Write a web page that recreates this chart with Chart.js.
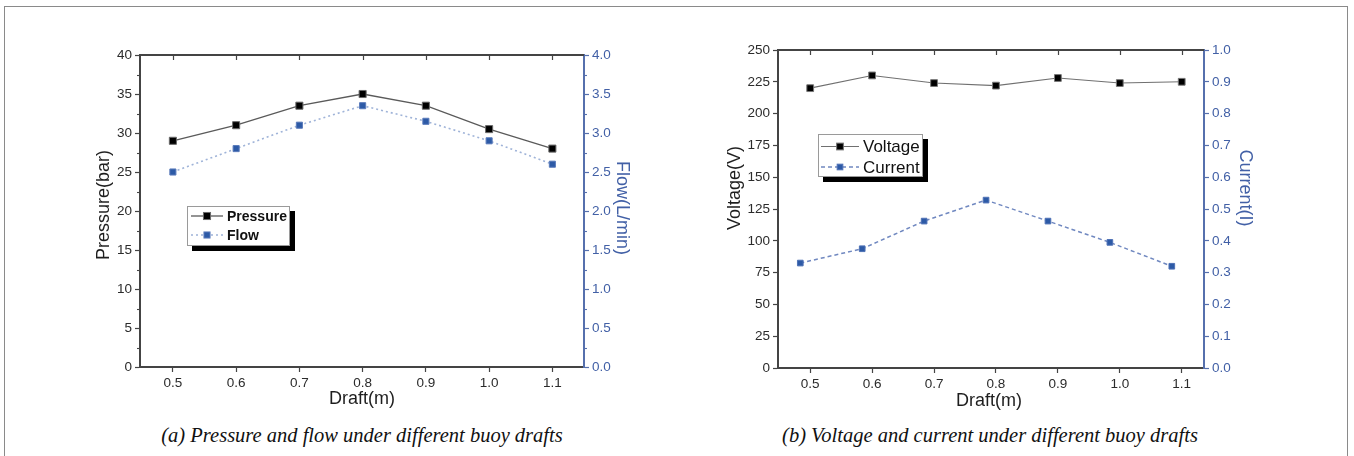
<!DOCTYPE html>
<html>
<head>
<meta charset="utf-8">
<script src="https://cdn.jsdelivr.net/npm/chart.js@4.4.1/dist/chart.umd.min.js"></script>
<style>
  html, body { margin: 0; padding: 0; background: #fff; }
  body { width: 1354px; height: 456px; position: relative; overflow: hidden; }
  .frame { position: absolute; left: 4px; top: 6px; width: 1344px; height: 520px; border: 1px solid #8a8a8a; box-sizing: border-box; }
  .panel { position: absolute; top: 0; width: 677px; height: 420px; }
  .caption { position: absolute; top: 424px; font-family: "Liberation Serif", "Times New Roman", serif; font-style: italic; font-size: 20.5px; color: #111; white-space: nowrap; transform: translateX(-50%); }
</style>
</head>
<body>
<div class="frame"></div>
<div class="panel" style="left:0"><canvas id="chartA" width="677" height="420"></canvas></div>
<div class="panel" style="left:677px"><canvas id="chartB" width="677" height="420"></canvas></div>
<div class="caption" style="left:362px">(a) Pressure and flow under different buoy drafts</div>
<div class="caption" style="left:990px">(b) Voltage and current under different buoy drafts</div>

<script>
// ---- data ----
const draftTicks = [0.5, 0.6, 0.7, 0.8, 0.9, 1.0, 1.1];

const draftA = [0.5, 0.6, 0.7, 0.8, 0.9, 1.0, 1.1];
const pressure = [29, 31, 33.5, 35, 33.5, 30.5, 28];
const flow = [2.5, 2.8, 3.1, 3.35, 3.15, 2.9, 2.6];

const draftVoltage = [0.5, 0.6, 0.7, 0.8, 0.9, 1.0, 1.1];
const voltage = [220, 230, 224, 222, 228, 224, 225];
const draftCurrent = [0.484, 0.584, 0.684, 0.784, 0.884, 0.984, 1.084];
const current = [0.33, 0.375, 0.462, 0.528, 0.462, 0.395, 0.32];

const pressureTicks = [0, 5, 10, 15, 20, 25, 30, 35, 40];
const flowTicks = [0, 0.5, 1.0, 1.5, 2.0, 2.5, 3.0, 3.5, 4.0];
const voltageTicks = [0, 25, 50, 75, 100, 125, 150, 175, 200, 225, 250];
const currentTicks = [0, 0.1, 0.2, 0.3, 0.4, 0.5, 0.6, 0.7, 0.8, 0.9, 1.0];

// ---- styling ----
const SANS = '"Liberation Sans", Arial, Helvetica, sans-serif';
const DARK = '#2b2b2b';
const AXIS = '#444';
const BLUE = '#4260a6';
const BLUE_AXIS = '#5670ad';
const TICK_FONT = { family: SANS, size: 13.5 };

const pts = (xs, ys) => xs.map((x, i) => ({ x, y: ys[i] }));
const fixed1 = v => Number(v).toFixed(1);
const plain = v => String(v);

function xScale(min, max) {
  return {
    type: 'linear', position: 'bottom', min, max,
    afterBuildTicks: s => { s.ticks = draftTicks.map(v => ({ value: v })); },
    afterFit: s => { s.height = 40; },
    grid: { display: true, drawOnChartArea: false, drawTicks: true, tickLength: 5, tickColor: AXIS, tickWidth: 1.2 },
    border: { display: true, color: AXIS, width: 2 },
    ticks: { color: DARK, font: TICK_FONT, padding: 3, autoSkip: false, maxRotation: 0, callback: fixed1 }
  };
}

function yScale(position, list, color, axisColor, fmt) {
  return {
    type: 'linear', position, min: list[0], max: list[list.length - 1],
    afterBuildTicks: s => { s.ticks = list.map(v => ({ value: v })); },
    afterFit: s => { s.width = 45; },
    grid: { display: true, drawOnChartArea: false, drawTicks: true, tickLength: 5, tickColor: axisColor, tickWidth: 1.2 },
    border: { display: true, color: axisColor, width: 2 },
    ticks: { color, font: TICK_FONT, padding: 3, autoSkip: false, callback: fmt }
  };
}

// Frame top line, inward top ticks, minor ticks, axis titles and boxed legend
const decor = {
  id: 'decor',
  afterDraw(chart, args, o) {
    const { ctx, chartArea: a, scales } = chart;
    ctx.save();
    ctx.lineCap = 'butt';

    // top border of the plot frame
    ctx.strokeStyle = AXIS;
    ctx.lineWidth = 2;
    ctx.beginPath(); ctx.moveTo(a.left, a.top); ctx.lineTo(a.right, a.top); ctx.stroke();

    // ticks on the top border, pointing inward
    ctx.lineWidth = 1.2;
    scales.x.ticks.forEach(t => {
      const px = Math.round(scales.x.getPixelForValue(t.value)) + 0.5;
      ctx.beginPath(); ctx.moveTo(px, a.top); ctx.lineTo(px, a.top + 5); ctx.stroke();
    });

    // minor ticks halfway between labelled ones
    (o.minor || []).forEach(id => {
      const s = scales[id];
      const vals = s.ticks.map(t => t.value);
      const left = s.position === 'left';
      const x0 = left ? a.left : a.right;
      ctx.strokeStyle = s.options.grid.tickColor;
      ctx.lineWidth = 1.1;
      for (let i = 0; i < vals.length - 1; i++) {
        const py = Math.round(s.getPixelForValue((vals[i] + vals[i + 1]) / 2)) + 0.5;
        ctx.beginPath(); ctx.moveTo(x0, py); ctx.lineTo(x0 + (left ? -3 : 3), py); ctx.stroke();
      }
    });

    // axis titles
    (o.titles || []).forEach(t => {
      ctx.save();
      ctx.translate(t.x, t.y);
      ctx.rotate(t.rot || 0);
      ctx.font = `${t.size}px ${SANS}`;
      ctx.fillStyle = t.color;
      ctx.textAlign = 'center';
      ctx.textBaseline = 'middle';
      ctx.fillText(t.text, 0, 0);
      ctx.restore();
    });

    // legend box with drop shadow
    const lg = o.legend;
    if (lg) {
      ctx.fillStyle = '#000';
      ctx.fillRect(lg.x + lg.shadow, lg.y + lg.shadow, lg.w, lg.h);
      ctx.fillStyle = '#fff';
      ctx.fillRect(lg.x, lg.y, lg.w, lg.h);
      ctx.strokeStyle = '#9a9a9a';
      ctx.lineWidth = 1;
      ctx.strokeRect(lg.x + 0.5, lg.y + 0.5, lg.w - 1, lg.h - 1);
      chart.data.datasets.forEach((ds, i) => {
        const cy = lg.y + lg.rows[i];
        const x0 = lg.x + lg.lineStart, x1 = lg.x + lg.lineEnd;
        ctx.strokeStyle = ds.borderColor;
        ctx.lineWidth = ds.borderWidth;
        ctx.setLineDash(ds.borderDash || []);
        ctx.beginPath(); ctx.moveTo(x0, cy); ctx.lineTo(x1, cy); ctx.stroke();
        ctx.setLineDash([]);
        const side = ds.pointRadius * Math.SQRT2;
        const mx = (x0 + x1) / 2;
        ctx.fillStyle = ds.pointBackgroundColor;
        ctx.fillRect(mx - side / 2, cy - side / 2, side, side);
        ctx.strokeStyle = ds.pointBorderColor;
        ctx.lineWidth = ds.pointBorderWidth;
        ctx.strokeRect(mx - side / 2, cy - side / 2, side, side);
        ctx.fillStyle = '#111';
        ctx.font = lg.font;
        ctx.textAlign = 'left';
        ctx.textBaseline = 'middle';
        ctx.fillText(ds.label, lg.x + lg.textX, cy + 1);
      });
    }
    ctx.restore();
  }
};

const common = {
  responsive: false,
  animation: false,
  events: [],
  plugins: { legend: { display: false }, tooltip: { enabled: false } }
};

// (a) Pressure and flow
new Chart(document.getElementById('chartA'), {
  type: 'line',
  data: {
    datasets: [
      {
        label: 'Pressure', data: pts(draftA, pressure), yAxisID: 'y',
        borderColor: '#5a5a5a', borderWidth: 1.3,
        pointStyle: 'rect', pointRadius: 5, pointBackgroundColor: '#000', pointBorderColor: '#6a6a6a', pointBorderWidth: 1
      },
      {
        label: 'Flow', data: pts(draftA, flow), yAxisID: 'y1',
        borderColor: '#9fb3d8', borderWidth: 1.6, borderDash: [2, 3],
        pointStyle: 'rect', pointRadius: 4.3, pointBackgroundColor: '#2d5aa6', pointBorderColor: '#5a7bbb', pointBorderWidth: 1
      }
    ]
  },
  options: Object.assign({}, common, {
    layout: { padding: { left: 95, right: 48, top: 55, bottom: 13 } },
    scales: {
      x: xScale(0.448, 1.15),
      y: yScale('left', pressureTicks, DARK, AXIS, plain),
      y1: yScale('right', flowTicks, BLUE, BLUE_AXIS, fixed1)
    },
    plugins: Object.assign({}, common.plugins, {
      decor: {
        minor: ['y', 'y1'],
        titles: [
          { text: 'Pressure(bar)', x: 104, y: 205, rot: -Math.PI / 2, size: 18, color: '#1e1e1e' },
          { text: 'Flow(L/min)', x: 622, y: 208, rot: Math.PI / 2, size: 18, color: BLUE },
          { text: 'Draft(m)', x: 362, y: 399, rot: 0, size: 18, color: '#1e1e1e' }
        ],
        legend: { x: 187, y: 206, w: 103, h: 40, shadow: 5, rows: [10, 29], lineStart: 4, lineEnd: 36, textX: 40, font: `bold 14px ${SANS}` }
      }
    })
  }),
  plugins: [decor]
});

// (b) Voltage and current
new Chart(document.getElementById('chartB'), {
  type: 'line',
  data: {
    datasets: [
      {
        label: 'Voltage', data: pts(draftVoltage, voltage), yAxisID: 'y',
        borderColor: '#707070', borderWidth: 1.1,
        pointStyle: 'rect', pointRadius: 4.8, pointBackgroundColor: '#000', pointBorderColor: '#777', pointBorderWidth: 1
      },
      {
        label: 'Current', data: pts(draftCurrent, current), yAxisID: 'y1',
        borderColor: '#7088c0', borderWidth: 1.5, borderDash: [4, 3],
        pointStyle: 'rect', pointRadius: 4, pointBackgroundColor: '#2d5aa6', pointBorderColor: '#4f72b6', pointBorderWidth: 1
      }
    ]
  },
  options: Object.assign({}, common, {
    layout: { padding: { left: 56, right: 105, top: 50, bottom: 12 } },
    scales: {
      x: xScale(0.448, 1.136),
      y: yScale('left', voltageTicks, DARK, AXIS, plain),
      y1: yScale('right', currentTicks, BLUE, BLUE_AXIS, fixed1)
    },
    plugins: Object.assign({}, common.plugins, {
      decor: {
        minor: [],
        titles: [
          { text: 'Voltage(V)', x: 58, y: 188, rot: -Math.PI / 2, size: 18, color: '#1e1e1e' },
          { text: 'Current(I)', x: 568, y: 188, rot: Math.PI / 2, size: 18, color: BLUE },
          { text: 'Draft(m)', x: 312, y: 401, rot: 0, size: 18, color: '#1e1e1e' }
        ],
        legend: { x: 141, y: 134, w: 105, h: 43, shadow: 5, rows: [12.5, 33], lineStart: 3, lineEnd: 41, textX: 45, font: `17px ${SANS}` }
      }
    })
  }),
  plugins: [decor]
});
</script>
</body>
</html>
